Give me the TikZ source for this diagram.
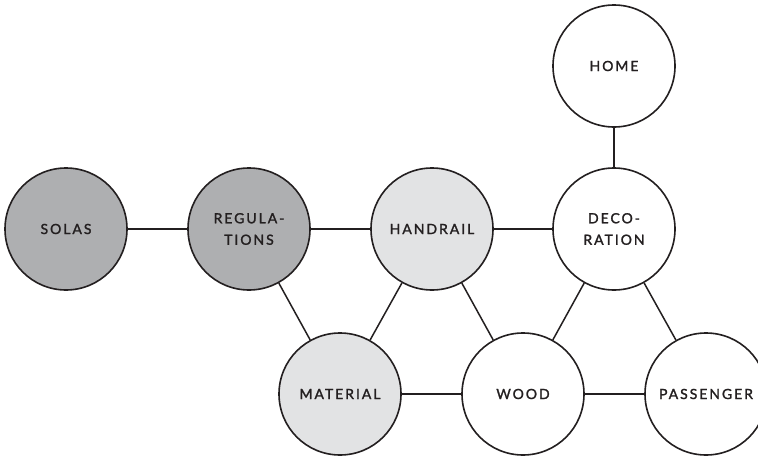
\documentclass[tikz,border=0pt]{standalone}
\usepackage{fontspec}
\newfontfamily\labelfont[LetterSpace=14,FakeBold=1.6]{Lato}
\definecolor{darkfill}{HTML}{AEAFB1}
\definecolor{lightfill}{HTML}{E2E3E4}
\definecolor{ink}{HTML}{231F20}
\tikzset{
  topic/.style={circle, draw=ink, line width=1.6pt, minimum size=122pt, inner sep=0pt,
    align=center, text=ink, font=\labelfont\fontsize{14}{21.5}\selectfont},
  core/.style={topic, fill=darkfill},
  near/.style={topic, fill=lightfill},
  outer/.style={topic, fill=white},
  link/.style={draw=ink, line width=1.5pt}
}
\begin{document}
\begin{tikzpicture}[x=1pt,y=-1pt]
\useasboundingbox[fill=white] (0,0) rectangle (758,458);
% top row and upper nodes
\node[outer] (home) at (614,66) {HOME};
\node[core]  (solas) at (66,229) {SOLAS};
\node[core]  (reg) at (249,229) {REGULA-\\TIONS};
\node[near]  (hand) at (432,229) {HANDRAIL};
\node[outer] (deco) at (614,229) {DECO-\\RATION};
% bottom row
\node[near]  (mat) at (340,394) {MATERIAL};
\node[outer] (wood) at (523,394) {WOOD};
\node[outer] (pass) at (706,394) {PASSENGER};
% connectors
\draw[link] (solas) -- (reg);
\draw[link] (reg) -- (hand);
\draw[link] (hand) -- (deco);
\draw[link] (home) -- (deco);
\draw[link] (reg) -- (mat);
\draw[link] (hand) -- (mat);
\draw[link] (hand) -- (wood);
\draw[link] (deco) -- (wood);
\draw[link] (deco) -- (pass);
\draw[link] (mat) -- (wood);
\draw[link] (wood) -- (pass);
\end{tikzpicture}
\end{document}
